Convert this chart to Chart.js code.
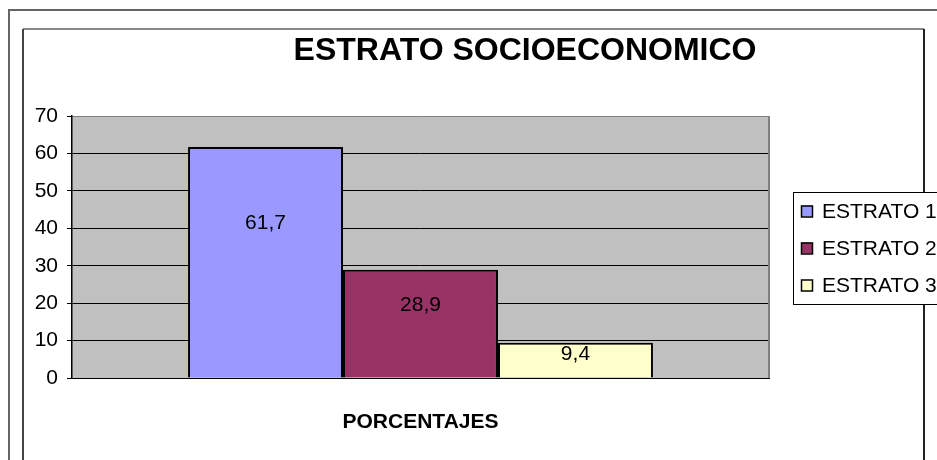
<!DOCTYPE html>
<html>
<head>
<meta charset="utf-8">
<script src="https://cdn.jsdelivr.net/npm/chart.js@4.4.1/dist/chart.umd.min.js"></script>
<style>
  html, body { margin: 0; padding: 0; background: #fff; overflow: hidden; }
  #wrap { width: 937px; height: 460px; position: relative; }
</style>
</head>
<body>
<div id="wrap"><canvas id="chart" width="937" height="460"></canvas></div>
<script>
// datos del grafico
const chartTitle = 'ESTRATO SOCIOECONOMICO';
const categories = ['PORCENTAJES'];
const seriesNames = ['ESTRATO 1', 'ESTRATO 2', 'ESTRATO 3'];
const seriesValues = [61.7, 28.9, 9.4];
const seriesColors = ['#9999ff', '#993366', '#ffffcc'];
const yTicks = [0, 10, 20, 30, 40, 50, 60, 70];

const FONT = 'Arial, "Liberation Sans", sans-serif';

// marcos, fondo gris del area de trazado
const framePlugin = {
  id: 'frames',
  beforeDraw(chart) {
    const ctx = chart.ctx;
    const a = chart.chartArea;
    ctx.save();
    ctx.fillStyle = '#fff';
    ctx.fillRect(0, 0, chart.width, chart.height);
    // marco exterior
    ctx.strokeStyle = '#666';
    ctx.lineWidth = 2;
    ctx.strokeRect(9, 10, 1000, 1000);
    // marco interior
    ctx.strokeStyle = '#888';
    ctx.beginPath(); ctx.moveTo(23, 29); ctx.lineTo(924, 29); ctx.stroke();
    ctx.strokeStyle = '#444';
    ctx.beginPath(); ctx.moveTo(23, 29); ctx.lineTo(23, 470); ctx.stroke();
    ctx.strokeStyle = '#222';
    ctx.beginPath(); ctx.moveTo(924, 29); ctx.lineTo(924, 470); ctx.stroke();
    // fondo gris
    ctx.fillStyle = '#c0c0c0';
    ctx.fillRect(a.left, a.top, a.right - a.left, a.bottom - a.top);
    ctx.restore();
  },
  afterDatasetsDraw(chart) {
    const ctx = chart.ctx;
    const a = chart.chartArea;
    ctx.save();
    ctx.strokeStyle = '#808080';
    ctx.lineWidth = 2;
    ctx.beginPath(); ctx.moveTo(a.right, a.top); ctx.lineTo(a.right, a.bottom); ctx.stroke();
    ctx.restore();
  },
  afterDraw(chart) {
    const ctx = chart.ctx;
    ctx.save();
    // titulo
    ctx.fillStyle = '#000';
    ctx.font = 'bold 32px ' + FONT;
    ctx.textAlign = 'center';
    ctx.textBaseline = 'middle';
    ctx.fillText(chartTitle, 525, 51);

    // leyenda (se sale del borde como en el original)
    const lx = 793, ly = 192, lh = 112;
    ctx.fillStyle = '#fff';
    ctx.fillRect(lx, ly, 200, lh);
    ctx.strokeStyle = '#000';
    ctx.lineWidth = 1;
    ctx.strokeRect(lx + 0.5, ly + 0.5, 200, lh);
    ctx.font = '21px ' + FONT;
    ctx.textAlign = 'left';
    chart.data.datasets.forEach((ds, i) => {
      const cy = ly + 19 + i * 37;
      ctx.fillStyle = ds.backgroundColor;
      ctx.fillRect(801, cy - 5.5, 11, 11);
      ctx.strokeStyle = '#000';
      ctx.lineWidth = 1.5;
      ctx.strokeRect(801.5, cy - 5, 11, 11);
      ctx.fillStyle = '#000';
      ctx.fillText(ds.label, 822, cy + 1);
    });
    ctx.restore();
  }
};

// etiquetas de valor dentro de las barras
const valueLabels = {
  id: 'valueLabels',
  afterDatasetsDraw(chart) {
    const ctx = chart.ctx;
    ctx.save();
    ctx.font = '21px ' + FONT;
    ctx.fillStyle = '#000';
    ctx.textAlign = 'center';
    ctx.textBaseline = 'middle';
    chart.data.datasets.forEach((ds, i) => {
      chart.getDatasetMeta(i).data.forEach((bar, j) => {
        const y = bar.y + (bar.base - bar.y) * 0.33;
        ctx.fillText(ds.data[j].toFixed(1).replace('.', ','), bar.x, y);
      });
    });
    ctx.restore();
  }
};

const datasets = seriesNames.map((name, i) => ({
  label: name,
  data: [seriesValues[i]],
  backgroundColor: seriesColors[i],
  borderColor: '#000',
  borderWidth: 2,
  categoryPercentage: 0.667,
  barPercentage: 1
}));

new Chart(document.getElementById('chart'), {
  type: 'bar',
  data: { labels: categories, datasets },
  options: {
    responsive: false,
    animation: false,
    layout: { padding: { left: 0, top: 116, right: 168, bottom: 20 } },
    plugins: {
      legend: { display: false },
      title: { display: false },
      tooltip: { enabled: false }
    },
    scales: {
      x: {
        afterFit(s) { s.height = 62; },
        grid: { display: false },
        border: { display: true, color: '#000', width: 1 },
        ticks: { color: '#000', font: { family: FONT, size: 21, weight: 'bold' }, padding: 24 }
      },
      y: {
        min: 0,
        max: 70,
        afterFit(s) { s.width = 72; },
        afterBuildTicks(s) { s.ticks = yTicks.map(v => ({ value: v })); },
        grid: {
          color: c => (c.tick && c.tick.value === 70 ? '#808080' : '#000'),
          tickColor: '#000',
          tickLength: 5,
          lineWidth: 1
        },
        border: { display: true, color: '#000', width: 1.5 },
        ticks: { color: '#000', font: { family: FONT, size: 21 }, padding: 9 }
      }
    }
  },
  plugins: [framePlugin, valueLabels]
});
</script>
</body>
</html>
